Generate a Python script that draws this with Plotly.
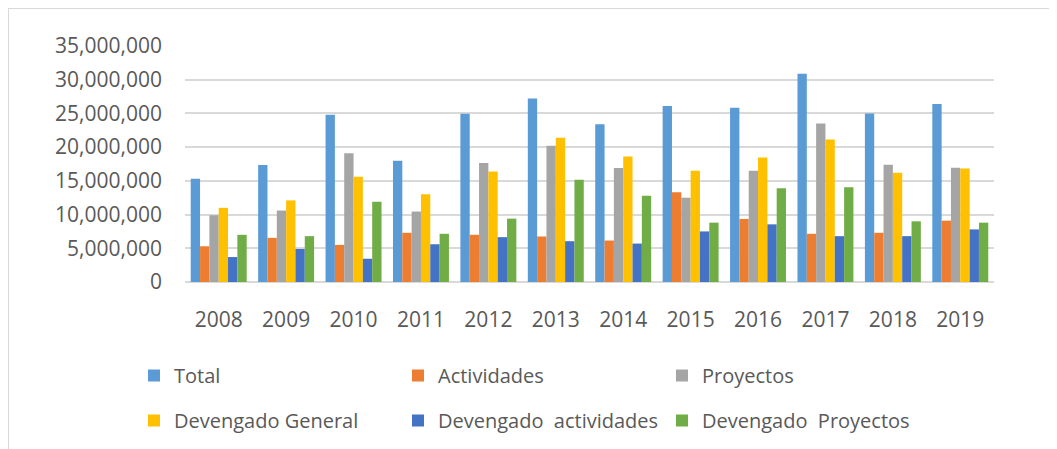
import plotly.graph_objects as go

# === DATA ===
years = ["2008", "2009", "2010", "2011", "2012", "2013",
         "2014", "2015", "2016", "2017", "2018", "2019"]

total = [15300000, 17350000, 24800000, 18000000, 24950000, 27200000,
         23400000, 26100000, 25850000, 30900000, 25000000, 26400000]
actividades = [5300000, 6550000, 5500000, 7300000, 7000000, 6750000,
               6150000, 13300000, 9350000, 7150000, 7300000, 9100000]
proyectos = [9900000, 10600000, 19100000, 10450000, 17650000, 20200000,
             16900000, 12500000, 16500000, 23500000, 17400000, 16950000]
dev_general = [11000000, 12100000, 15600000, 13000000, 16400000, 21400000,
               18600000, 16500000, 18450000, 21150000, 16200000, 16850000]
dev_actividades = [3700000, 4900000, 3450000, 5600000, 6650000, 6050000,
                   5700000, 7500000, 8550000, 6800000, 6800000, 7800000]
dev_proyectos = [7000000, 6800000, 11900000, 7150000, 9400000, 15150000,
                 12800000, 8800000, 13900000, 14050000, 9000000, 8800000]

# name, values, colour, legend row
series = [
    ("Total", total, "#5B9BD5", "legend"),
    ("Actividades", actividades, "#ED7D31", "legend"),
    ("Proyectos", proyectos, "#A5A5A5", "legend"),
    ("Devengado General", dev_general, "#FFC000", "legend2"),
    ("Devengado\u00a0 actividades", dev_actividades, "#4472C4", "legend2"),
    ("Devengado\u00a0 Proyectos", dev_proyectos, "#70AD47", "legend2"),
]

FONT = "Open Sans, Noto Sans, sans-serif"
GREY = "#595959"

fig = go.Figure()
for name, vals, color, leg in series:
    fig.add_trace(go.Bar(x=years, y=vals, name=name, legend=leg,
                         marker=dict(color=color, line=dict(width=0))))

# plot area geometry (px); page body adds an 8px offset
W, H = 1049, 441
L, R, T, B = 177, 63, 38, 167
pw, ph = W - L - R, H - T - B
bottom = T + ph


def px_x(x):
    return (x - L) / pw


def px_y(y):
    return (bottom - y) / ph


legend_common = dict(orientation="h", xanchor="left", yanchor="top",
                     entrywidth=219, entrywidthmode="pixels",
                     font=dict(size=20, color=GREY),
                     bgcolor="rgba(0,0,0,0)")

fig.update_layout(
    width=W, height=H,
    margin=dict(l=L, r=R, t=T, b=B, autoexpand=False),
    paper_bgcolor="white", plot_bgcolor="white",
    barmode="group", bargap=0.17, bargroupgap=0,
    font=dict(family=FONT, size=21, color=GREY),
    xaxis=dict(showgrid=False, showline=False, ticks="",
               ticklabelstandoff=23,
               tickfont=dict(size=21, color=GREY)),
    yaxis=dict(range=[0, 35000000], dtick=5000000, tickformat=",d",
               showgrid=True, gridcolor="#D9D9D9", gridwidth=1.5,
               zeroline=True, zerolinecolor="#D9D9D9", zerolinewidth=1.5,
               showline=False, ticks="", ticklabelstandoff=22,
               tickfont=dict(size=21, color=GREY)),
    legend=dict(x=px_x(126), y=px_y(348), **legend_common),
    legend2=dict(x=px_x(126), y=px_y(393), **legend_common),
    shapes=[dict(type="rect", xref="paper", yref="paper",
                 x0=px_x(0.5), x1=px_x(W + 20),
                 y0=px_y(H + 20), y1=px_y(0.5),
                 line=dict(color="#D9D9D9", width=1.2), layer="below")],
)

fig.write_html("out.html")
